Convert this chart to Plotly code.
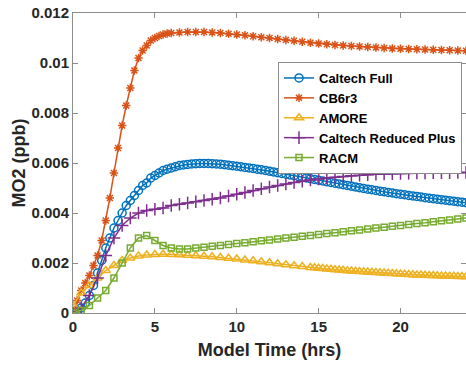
import plotly.graph_objects as go

# ---- data ----
t_blue = [i * 0.25 for i in range(97)]
caltech_full = [
    0.0000, 0.0001, 0.0002, 0.0004, 0.0007, 0.0011, 0.0016, 0.0021, 0.0026, 0.0030,
    0.0034, 0.0037, 0.0040, 0.0043, 0.0045, 0.0047, 0.0049, 0.0051, 0.0052, 0.0054,
    0.0055, 0.0056, 0.0057, 0.00575, 0.0058, 0.00585, 0.0059, 0.00592, 0.00594, 0.00596,
    0.00597, 0.00598, 0.00598, 0.00598, 0.00597, 0.00596, 0.00595, 0.00593, 0.00591, 0.00589,
    0.00587, 0.00585, 0.00582, 0.00580, 0.00578, 0.00575, 0.00573, 0.00570, 0.00567, 0.00564,
    0.00561, 0.00558, 0.00555, 0.00552, 0.00549, 0.00546, 0.00543, 0.00540, 0.00537, 0.00534,
    0.00531, 0.00528, 0.00525, 0.00522, 0.00519, 0.00516, 0.00513, 0.00510, 0.00507, 0.00504,
    0.00501, 0.00498, 0.00495, 0.00493, 0.00490, 0.00487, 0.00485, 0.00482, 0.00480, 0.00477,
    0.00475, 0.00473, 0.00470, 0.00468, 0.00466, 0.00464, 0.00461, 0.00459, 0.00457, 0.00455,
    0.00453, 0.00451, 0.00449, 0.00447, 0.00445, 0.00443, 0.00441,
]

t_orange = [i * 0.25 for i in range(25)] + [6.5 + i * 0.5 for i in range(36)]
cb6r3 = [
    0.0000, 0.0005, 0.0009, 0.0012, 0.0015, 0.0019, 0.0023, 0.0029, 0.0037, 0.0046,
    0.0056, 0.0066, 0.0075, 0.0083, 0.0090, 0.0097, 0.0102, 0.0105, 0.0107, 0.0109,
    0.0110, 0.01108, 0.01114, 0.01118, 0.0112,
    0.01122, 0.01124, 0.01124, 0.01124, 0.01122, 0.0112, 0.01117, 0.01114, 0.01111, 0.01107,
    0.01103, 0.0110, 0.01096, 0.01092, 0.01089, 0.01085, 0.01081, 0.01078, 0.01075, 0.01072,
    0.0107, 0.01068, 0.01066, 0.01064, 0.01062, 0.0106, 0.01058, 0.01057, 0.01056, 0.01055,
    0.01054, 0.01053, 0.01052, 0.01051, 0.0105, 0.01049,
]

t_yellow = [i * 0.5 for i in range(30)] + [14.75 + i * 0.25 for i in range(38)]
amore = [
    0.0003, 0.0008, 0.0011, 0.0014, 0.0017, 0.0019, 0.0021, 0.0022, 0.00228, 0.00232,
    0.00234, 0.00235, 0.00234, 0.00233, 0.00231, 0.00229, 0.00227, 0.00225, 0.00222, 0.00219,
    0.00216, 0.00212, 0.00209, 0.00205, 0.00201, 0.00197, 0.00193, 0.00189, 0.00186, 0.00182,
    0.00181, 0.00179, 0.00178, 0.00176, 0.00175, 0.00173, 0.00172, 0.00171, 0.00169, 0.00168,
    0.00167, 0.00166, 0.00165, 0.00164, 0.00163, 0.00162, 0.00161, 0.0016, 0.00159, 0.00158,
    0.00157, 0.00156, 0.00155, 0.00154, 0.00153, 0.00152, 0.00152, 0.00151, 0.0015, 0.0015,
    0.00149, 0.00148, 0.00148, 0.00147, 0.00147, 0.00146, 0.00146, 0.00145,
]

t_half = [i * 0.5 for i in range(49)]
caltech_reduced_plus = [
    0.0000, 0.0002, 0.0007, 0.0014, 0.0023, 0.0030, 0.0035, 0.0038, 0.0040, 0.0041,
    0.00415, 0.0042, 0.0043, 0.00435, 0.0044, 0.00445, 0.0045, 0.00455, 0.0046, 0.00468,
    0.00475, 0.00482, 0.0049, 0.00497, 0.00504, 0.0051, 0.00516, 0.00522, 0.00527, 0.00532,
    0.00536, 0.0054, 0.00543, 0.00546, 0.00549, 0.00551, 0.00553, 0.00555, 0.00556, 0.00557,
    0.00558, 0.00559, 0.0056, 0.0056, 0.00561, 0.00561, 0.00561, 0.00562, 0.00562,
]

racm = [
    0.0000, 0.0001, 0.0003, 0.0006, 0.0009, 0.0014, 0.0020, 0.0026, 0.0030, 0.0031,
    0.0029, 0.0027, 0.0026, 0.00256, 0.00256, 0.0026, 0.00263, 0.00267, 0.0027, 0.00274,
    0.00278, 0.00281, 0.00285, 0.00289, 0.00292, 0.00296, 0.0030, 0.00303, 0.00307, 0.0031,
    0.00314, 0.00318, 0.00321, 0.00325, 0.00329, 0.00332, 0.00336, 0.0034, 0.00343, 0.00347,
    0.0035, 0.00354, 0.00358, 0.00361, 0.00365, 0.00369, 0.00372, 0.00376, 0.0038,
]

x_ticks = [0, 5, 10, 15, 20]
y_ticks = [0, 0.002, 0.004, 0.006, 0.008, 0.01, 0.012]
y_tick_labels = ["0", "0.002", "0.004", "0.006", "0.008", "0.01", "0.012"]

series = [
    ("Caltech Full", t_blue, caltech_full, "#0072BD", "circle-open", 8),
    ("CB6r3", t_orange, cb6r3, "#D95319", "asterisk-open", 7),
    ("AMORE", t_yellow, amore, "#EDB120", "triangle-up-open", 8),
    ("Caltech Reduced Plus", t_half, caltech_reduced_plus, "#7E2F8E", "cross-thin-open", 9),
    ("RACM", t_half, racm, "#77AC30", "square-open", 6),
]

FONT = "Liberation Sans, Arial, sans-serif"

fig = go.Figure()
for name, t, y, col, sym, sz in series:
    fig.add_trace(go.Scatter(
        x=t, y=y, name=f"<b>{name}</b>", mode="lines+markers",
        line=dict(color=col, width=1.5),
        marker=dict(symbol=sym, size=sz, color=col, line=dict(color=col, width=1.5)),
    ))

axis_common = dict(
    showline=True, linecolor="#8c8c8c", linewidth=1, mirror="ticks",
    ticks="inside", ticklen=5, tickcolor="#8c8c8c", showgrid=False, zeroline=False,
    automargin=False,
    tickfont=dict(family=FONT, size=15, color="#262626"),
)

fig.update_layout(
    width=466, height=370,
    margin=dict(l=73, r=0, t=13, b=57, autoexpand=False),
    paper_bgcolor="white", plot_bgcolor="white",
    font=dict(family=FONT, color="#262626"),
    xaxis=dict(range=[0, 24], tickvals=x_ticks, ticktext=[f"<b>{v}</b>" for v in x_ticks],
               title=dict(text="<b>Model Time (hrs)</b>", font=dict(size=18, family=FONT), standoff=9),
               **axis_common),
    yaxis=dict(range=[0, 0.012], tickvals=y_ticks, ticktext=[f"<b>{v}</b>" for v in y_tick_labels],
               title=dict(text="<b>MO2 (ppb)</b>", font=dict(size=18, family=FONT), standoff=1),
               **axis_common),
    legend=dict(
        x=(278 - 73) / 393, y=(313 - 62) / 300, xanchor="left", yanchor="top",
        bgcolor="white", bordercolor="#8c8c8c", borderwidth=1,
        font=dict(family=FONT, size=13, color="#000000"),
        tracegroupgap=0, itemwidth=30,
    ),
    showlegend=True,
)

fig.write_html("out.html", config={"displayModeBar": False},
               post_script="document.body.style.margin='0';")
